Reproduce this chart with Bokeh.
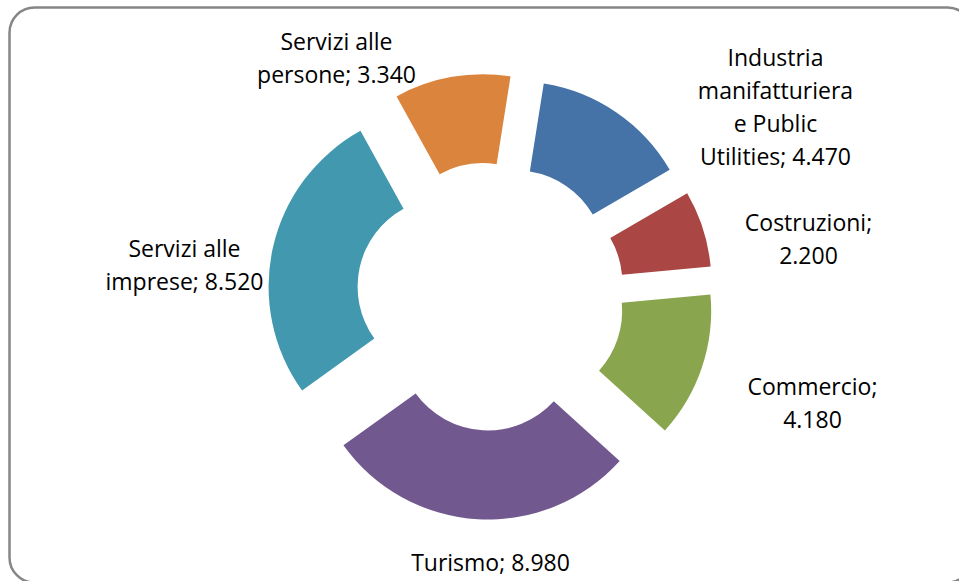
import math
from bokeh.plotting import figure
from bokeh.models import ColumnDataSource, Range1d, BoxAnnotation
from bokeh.core.properties import value
from bokeh.embed import file_html
from bokeh.resources import INLINE

# ---- data ----
categories = ["Industria manifatturiera e Public Utilities", "Costruzioni", "Commercio",
              "Turismo", "Servizi alle imprese", "Servizi alle persone"]
values = [4470, 2200, 4180, 8980, 8520, 3340]
labels = ["Industria\nmanifatturiera\ne Public\nUtilities; 4.470",
          "Costruzioni;\n2.200",
          "Commercio;\n4.180",
          "Turismo; 8.980",
          "Servizi alle\nimprese; 8.520",
          "Servizi alle\npersone; 3.340"]
colors = ["#4572A7", "#AA4643", "#89A54E", "#71588F", "#4198AF", "#DB843D"]

# ---- layout (pixels) ----
W, H = 959, 581
CX, CY = 490, H - 296
R_OUT, R_IN = 178, 89
EXPLODE = 45
FIRST_ANGLE = 9.0  # degrees clockwise from 12 o'clock
label_pos = [(775, 106), (808, 238), (812, 402), (490, 561), (184, 264), (336, 57)]

total = float(sum(values))
starts, ends, xs, ys = [], [], [], []
acc = 0.0
for v in values:
    th0 = FIRST_ANGLE + 360.0 * acc / total
    acc += v
    th1 = FIRST_ANGLE + 360.0 * acc / total
    s = math.radians(90 - th1)
    e = math.radians(90 - th0)
    m = (s + e) / 2
    starts.append(s)
    ends.append(e)
    xs.append(CX + EXPLODE * math.cos(m))
    ys.append(CY + EXPLODE * math.sin(m))

src = ColumnDataSource(dict(x=xs, y=ys, start=starts, end=ends, color=colors, cat=categories))

p = figure(width=W, height=H, output_backend="svg", toolbar_location=None,
           x_range=Range1d(0, W), y_range=Range1d(0, H),
           x_axis_type=None, y_axis_type=None, min_border=0,
           outline_line_color=None, background_fill_color="white",
           border_fill_color="white")
p.grid.visible = False

p.annular_wedge(x="x", y="y", inner_radius=R_IN, outer_radius=R_OUT,
                start_angle="start", end_angle="end", direction="anticlock",
                fill_color="color", line_color=None, source=src)

lsrc = ColumnDataSource(dict(x=[lp[0] for lp in label_pos],
                             y=[H - lp[1] for lp in label_pos], text=labels))
p.text(x="x", y="y", text="text", source=lsrc, text_align="center",
       text_baseline="middle", text_font=value("Open Sans"), text_font_size="23px",
       text_line_height=1.04, text_color="#000000")

border = BoxAnnotation(left=9, right=972, top=H - 7, bottom=H - 582,
                       fill_alpha=0, line_color="#868686", line_alpha=1.0,
                       line_width=2.5, border_radius=25)
p.add_layout(border)

open("out.html", "w").write(file_html(p, INLINE))
